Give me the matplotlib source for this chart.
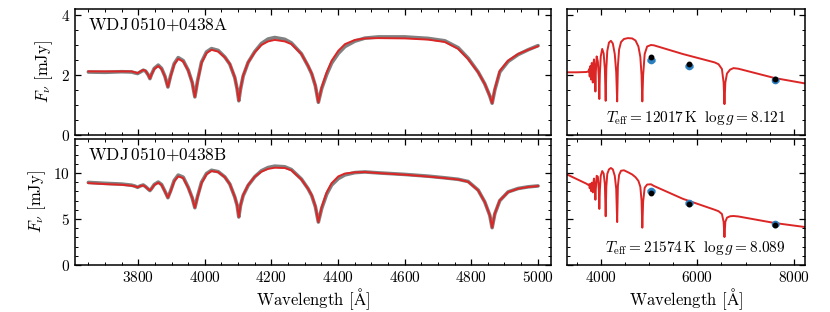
import matplotlib
matplotlib.use("Agg")
import matplotlib.pyplot as plt
from matplotlib.ticker import MultipleLocator

plt.rcParams['font.family'] = 'serif'
plt.rcParams['font.serif'] = ['cmr10', 'DejaVu Serif']
plt.rcParams['mathtext.fontset'] = 'cm'
plt.rcParams['axes.formatter.use_mathtext'] = True
plt.rcParams['axes.unicode_minus'] = False

# spectra (left panels)
spec_wl = [3650, 3700, 3750, 3780, 3790, 3798, 3806, 3815, 3822, 3830, 3835, 3840, 3848,
           3860, 3870, 3880, 3889, 3897, 3908, 3920, 3935, 3950, 3962, 3970, 3978, 3990,
           4005, 4020, 4040, 4060, 4075, 4090, 4097, 4102, 4107, 4115, 4130, 4150, 4170,
           4190, 4210, 4240, 4260, 4290, 4310, 4321, 4332, 4341, 4351, 4366, 4381, 4401,
           4421, 4451, 4481, 4521, 4601, 4671, 4721, 4761, 4791, 4821, 4841, 4856, 4863,
           4871, 4886, 4911, 4941, 4971, 5001]

model_a = [2.12, 2.12, 2.12, 2.12, 2.09, 2.06, 2.12, 2.17, 2.14, 2.00, 1.88, 2.02, 2.20,
           2.30, 2.20, 1.95, 1.60, 1.95, 2.35, 2.54, 2.45, 2.15, 1.75, 1.27, 1.78, 2.40,
           2.73, 2.84, 2.78, 2.59, 2.37, 1.92, 1.53, 1.14, 1.53, 1.98, 2.42, 2.76, 3.00,
           3.12, 3.17, 3.12, 3.03, 2.70, 2.31, 2.05, 1.65, 1.09, 1.59, 2.09, 2.48, 2.81,
           3.03, 3.17, 3.22, 3.23, 3.22, 3.18, 3.10, 2.87, 2.53, 2.09, 1.70, 1.30, 1.06,
           1.53, 2.14, 2.48, 2.70, 2.84, 2.96]

obs_a = [2.10, 2.09, 2.11, 2.10, 2.07, 2.05, 2.10, 2.16, 2.13, 2.00, 1.88, 2.03, 2.22,
         2.33, 2.22, 1.96, 1.60, 1.97, 2.38, 2.58, 2.48, 2.16, 1.75, 1.27, 1.80, 2.43,
         2.77, 2.88, 2.82, 2.60, 2.36, 1.91, 1.53, 1.14, 1.52, 1.96, 2.42, 2.78, 3.05,
         3.20, 3.25, 3.19, 3.07, 2.71, 2.30, 2.04, 1.64, 1.09, 1.55, 2.02, 2.40, 2.72,
         2.95, 3.13, 3.23, 3.27, 3.27, 3.22, 3.14, 2.91, 2.56, 2.10, 1.70, 1.30, 1.06,
         1.50, 2.10, 2.45, 2.68, 2.84, 2.98]

model_b = [8.91, 8.80, 8.73, 8.62, 8.55, 8.45, 8.58, 8.66, 8.50, 8.25, 8.12, 8.30, 8.70,
           8.95, 8.70, 8.00, 7.32, 8.00, 9.10, 9.64, 9.45, 8.40, 7.30, 6.23, 7.40, 8.90,
           9.85, 10.22, 10.10, 9.55, 8.80, 7.40, 6.50, 5.22, 6.50, 7.60, 8.70, 9.60, 10.15,
           10.45, 10.58, 10.55, 10.30, 9.30, 8.30, 7.60, 6.40, 4.67, 6.30, 7.90, 8.90, 9.64,
           9.95, 10.08, 10.11, 10.00, 9.82, 9.62, 9.45, 9.30, 9.05, 8.12, 6.85, 5.40, 4.06,
           5.58, 7.03, 7.93, 8.30, 8.48, 8.59]

obs_b = [8.98, 8.88, 8.80, 8.68, 8.58, 8.45, 8.60, 8.70, 8.52, 8.25, 8.10, 8.32, 8.75,
         9.02, 8.75, 8.02, 7.32, 8.05, 9.20, 9.78, 9.55, 8.45, 7.30, 6.23, 7.45, 9.00,
         9.95, 10.30, 10.15, 9.58, 8.80, 7.38, 6.48, 5.22, 6.45, 7.55, 8.65, 9.60, 10.25,
         10.60, 10.75, 10.68, 10.38, 9.35, 8.30, 7.55, 6.35, 4.67, 6.15, 7.70, 8.70, 9.40,
         9.80, 10.05, 10.12, 10.02, 9.85, 9.66, 9.48, 9.32, 9.08, 8.15, 6.85, 5.40, 4.06,
         5.55, 7.00, 7.95, 8.32, 8.50, 8.60]

# SED model (right panels)
sed_wl_a = [3300, 3500, 3700, 3745, 3760, 3771, 3785, 3798, 3812, 3825, 3835, 3845, 3860,
            3880, 3889, 3898, 3915, 3940, 3960, 3970, 3982, 4000, 4030, 4060, 4085, 4102,
            4115, 4135, 4170, 4210, 4250, 4290, 4320, 4340, 4355, 4380, 4420, 4480, 4560,
            4650, 4720, 4780, 4820, 4845, 4861, 4878, 4910, 4960, 5040, 5100, 5700, 6360,
            6440, 6510, 6545, 6563, 6581, 6615, 6680, 6750, 6850, 7600, 8230]
sed_a = [2.09, 2.09, 2.10, 2.12, 2.20, 1.95, 2.30, 1.85, 2.40, 2.35, 1.75, 2.35, 2.52,
         2.05, 1.45, 2.10, 2.62, 2.45, 1.90, 1.20, 2.05, 2.62, 2.87, 2.72, 2.20, 1.14,
         2.20, 2.80, 3.08, 3.14, 3.05, 2.70, 2.10, 1.12, 2.30, 2.85, 3.10, 3.20, 3.23,
         3.22, 3.15, 2.95, 2.60, 2.00, 1.12, 2.00, 2.70, 2.95, 3.00, 2.99, 2.70, 2.42,
         2.36, 2.20, 1.75, 1.03, 1.75, 2.05, 2.18, 2.23, 2.21, 1.90, 1.72]

sed_wl_b = sed_wl_a
sed_b = [9.85, 9.35, 8.85, 8.70, 8.78, 8.35, 8.80, 8.05, 8.95, 8.85, 7.90, 8.90, 9.40,
         8.10, 7.10, 8.30, 9.70, 9.60, 8.20, 6.10, 8.20, 9.70, 10.22, 9.95, 8.80, 5.30,
         8.50, 9.90, 10.40, 10.55, 10.40, 9.70, 8.30, 4.67, 8.60, 9.80, 10.25, 10.30, 10.10,
         9.85, 9.55, 9.15, 8.50, 7.00, 4.06, 6.90, 8.40, 8.75, 8.78, 8.60, 7.20, 6.01,
         5.85, 5.55, 4.70, 3.04, 4.70, 5.15, 5.30, 5.33, 5.28, 4.57, 4.13]

# photometry
phot_wl = [5039, 5826, 7620]
phot_obs_a = [2.51, 2.31, 1.83]
phot_syn_a = [2.59, 2.38, 1.88]
phot_obs_b = [8.00, 6.78, 4.49]
phot_syn_b = [7.86, 6.59, 4.31]

names = [r'$\mathrm{WDJ\,0510{+}0438A}$', r'$\mathrm{WDJ\,0510{+}0438B}$']
params = [r'$T_{\rm eff}=12017\,{\rm K}\;\;\log g=8.121$',
          r'$T_{\rm eff}=21574\,{\rm K}\;\;\log g=8.089$']

red = '#dc2626'
blue = '#2a7fc0'

fig = plt.figure(figsize=(8.3, 3.12), dpi=100)
ax1 = fig.add_axes([0.0904, 0.5673, 0.5735, 0.4038])
ax2 = fig.add_axes([0.6831, 0.5673, 0.2867, 0.4038])
ax3 = fig.add_axes([0.0904, 0.1506, 0.5735, 0.4038])
ax4 = fig.add_axes([0.6831, 0.1506, 0.2867, 0.4038])

ax1.plot(spec_wl, obs_a, color='grey', lw=2.6, solid_capstyle='round')
ax1.plot(spec_wl, model_a, color=red, lw=1.4)
ax3.plot(spec_wl, obs_b, color='grey', lw=2.6, solid_capstyle='round')
ax3.plot(spec_wl, model_b, color=red, lw=1.4)

ax2.plot(sed_wl_a, sed_a, color=red, lw=1.4)
ax2.errorbar(phot_wl, phot_obs_a, xerr=80, fmt='o', color=blue, ms=4.5, elinewidth=2.5,
             capsize=0, zorder=3)
ax2.plot(phot_wl, phot_syn_a, 'o', color='black', ms=3.2, zorder=5)
ax4.plot(sed_wl_b, sed_b, color=red, lw=1.4)
ax4.errorbar(phot_wl, phot_obs_b, xerr=80, fmt='o', color=blue, ms=4.5, elinewidth=2.5,
             capsize=0, zorder=3)
ax4.plot(phot_wl, phot_syn_b, 'o', color='black', ms=3.2, zorder=5)

for ax in (ax1, ax3):
    ax.set_xlim(3610, 5040)
    ax.xaxis.set_major_locator(MultipleLocator(200))
    ax.xaxis.set_minor_locator(MultipleLocator(50))
    ax.set_ylabel(r'$F_\nu\ [\mathrm{mJy}]$', fontsize=12)
for ax in (ax2, ax4):
    ax.set_xlim(3300, 8230)
    ax.xaxis.set_major_locator(MultipleLocator(2000))
    ax.xaxis.set_minor_locator(MultipleLocator(500))
for ax in (ax1, ax2):
    ax.set_ylim(0, 4.2)
    ax.yaxis.set_major_locator(MultipleLocator(2))
    ax.yaxis.set_minor_locator(MultipleLocator(0.5))
    ax.set_xticklabels([])
for ax in (ax3, ax4):
    ax.set_ylim(0, 13.7)
    ax.yaxis.set_major_locator(MultipleLocator(5))
    ax.yaxis.set_minor_locator(MultipleLocator(1))
    ax.set_xlabel(r'Wavelength $[\mathrm{\AA}]$', fontsize=12, labelpad=1)
ax2.set_yticklabels([])
ax4.set_yticklabels([])

for ax in (ax1, ax2, ax3, ax4):
    ax.tick_params(which='both', direction='in', top=True, right=True, labelsize=11)
    ax.tick_params(which='major', length=4.5, width=0.9)
    ax.tick_params(which='minor', length=2.5, width=0.7)
    for s in ax.spines.values():
        s.set_linewidth(1.1)

ax1.text(0.028, 0.84, names[0], transform=ax1.transAxes, fontsize=12.5)
ax3.text(0.028, 0.84, names[1], transform=ax3.transAxes, fontsize=12.5)
ax2.text(0.92, 0.06, params[0], transform=ax2.transAxes, ha='right', va='bottom', fontsize=11)
ax4.text(0.92, 0.06, params[1], transform=ax4.transAxes, ha='right', va='bottom', fontsize=11)

fig.savefig('out.png', dpi=100)
